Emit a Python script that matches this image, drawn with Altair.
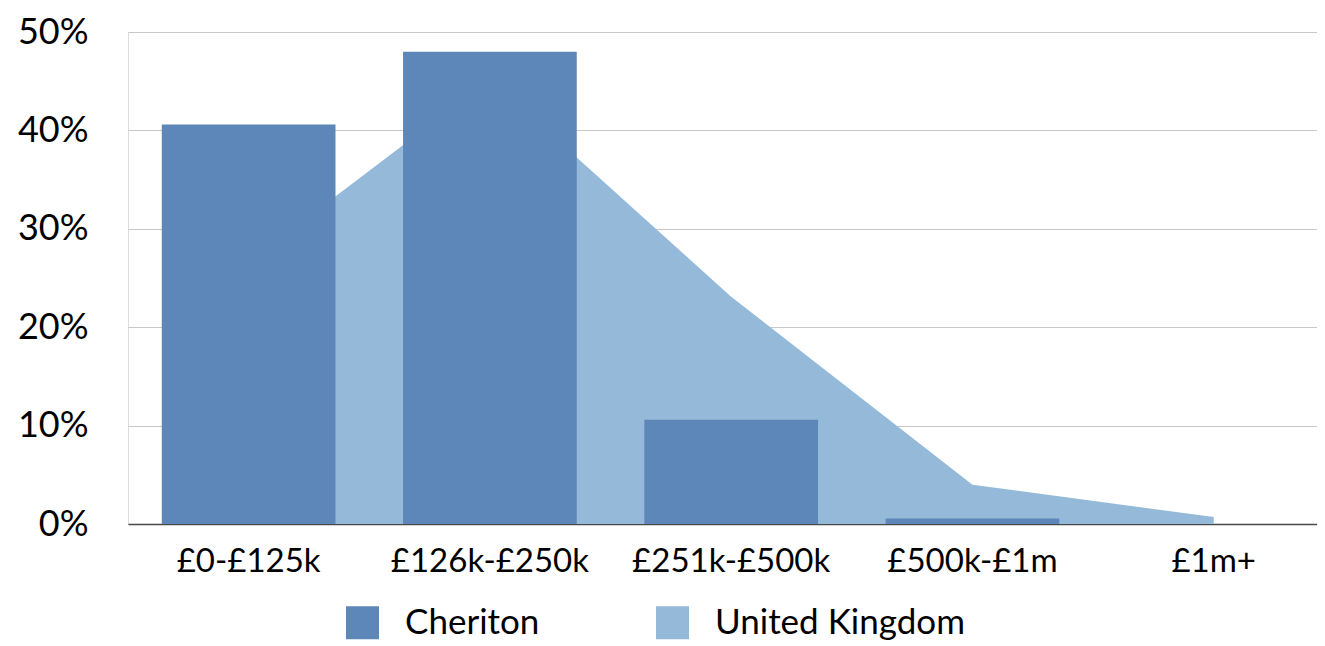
import altair as alt
import pandas as pd

categories = ["£0-£125k", "£126k-£250k", "£251k-£500k", "£500k-£1m", "£1m+"]
cheriton = [40.6, 48.0, 10.6, 0.55, 0.0]
united_kingdom = [26.6, 45.2, 23.1, 4.0, 0.7]
series_names = ["Cheriton", "United Kingdom"]
series_colors = ["#5d87b8", "#95bad9"]
y_ticks = [0, 10, 20, 30, 40, 50]

df_bar = pd.DataFrame({"band": categories, "value": cheriton, "series": series_names[0]})
df_area = pd.DataFrame({"band": categories, "value": united_kingdom, "series": series_names[1]})

FONT = "Lato"

color = alt.Color(
    "series:N",
    scale=alt.Scale(domain=series_names, range=series_colors),
    legend=alt.Legend(
        title=None,
        orient="none",
        direction="horizontal",
        legendX=217,
        legendY=573,
        symbolType="square",
        symbolSize=1089,
        symbolStrokeWidth=0,
        symbolOpacity=1,
        labelFont=FONT,
        labelFontSize=35,
        labelColor="#000000",
        labelOffset=25,
        columnPadding=115,
        labelLimit=0,
    ),
)

x = alt.X(
    "band:N",
    sort=categories,
    scale=alt.Scale(paddingInner=0.28, paddingOuter=0.104, align=0.673),
    axis=alt.Axis(
        title=None,
        labelAngle=0,
        labelFont=FONT,
        labelFontSize=33,
        labelColor="#000000",
        labelPadding=21,
        ticks=False,
        tickSize=0,
        domainColor="#4a4a4a",
        domainWidth=1.5,
        grid=False,
        labelLimit=0,
    ),
)

y = alt.Y(
    "value:Q",
    scale=alt.Scale(domain=[0, 50], nice=False),
    axis=alt.Axis(
        title=None,
        values=y_ticks,
        labelExpr="datum.value + '%'",
        labelFont=FONT,
        labelFontSize=36,
        labelColor="#000000",
        labelPadding=40,
        ticks=False,
        tickSize=0,
        domain=False,
        grid=True,
        gridColor="#c8c8c8",
        gridWidth=1,
    ),
)

area = alt.Chart(df_area).mark_area(opacity=1).encode(x=x, y=y, color=color)
bars = alt.Chart(df_bar).mark_bar().encode(x=x, y=y, color=color)

chart = (
    alt.layer(area, bars)
    .properties(width=1189, height=492, padding={"top": 6, "left": 9, "right": 0, "bottom": 0})
    .configure_view(stroke=None)
    .configure(background="white")
)

chart.save("out.html", embed_options={"renderer": "svg", "actions": False})
